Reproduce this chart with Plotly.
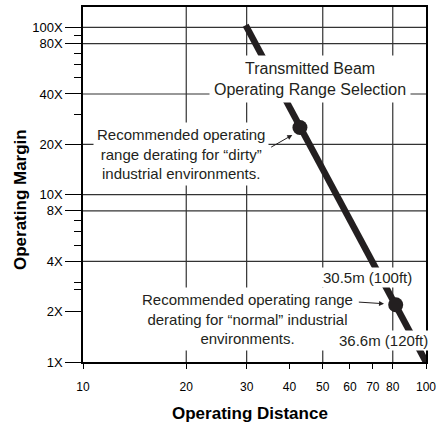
import plotly.graph_objects as go

# ---- data ----
beam_x = [29.8, 100]          # operating distance
beam_y = [103, 1.0]           # operating margin
dot_x = [42.9, 81.6]
dot_y = [25.2, 2.2]

x_ticks = [10, 20, 30, 40, 50, 60, 70, 80, 100]
x_tick_text = ["10", "20", "30", "40", "50", "60", "70", "80", "100"]
x_grid = [20, 30, 50, 80]

y_ticks = [1, 2, 4, 8, 10, 20, 40, 80, 100]
y_tick_text = ["1X", "2X", "4X", "8X", "10X", "20X", "40X", "80X", "100X"]
y_minor = [90, 70, 60, 50, 30, 7, 6, 5, 3, 2.7]
y_grid = [100, 80, 40, 20, 10, 8, 4]

INK = "#231f20"
FONT = "Liberation Sans, Arial, sans-serif"

fig = go.Figure()
fig.add_trace(go.Scatter(x=beam_x, y=beam_y, mode="lines",
                         line=dict(color=INK, width=6.5), hoverinfo="skip",
                         showlegend=False))
fig.add_trace(go.Scatter(x=dot_x, y=dot_y, mode="markers",
                         marker=dict(color=INK, size=15), hoverinfo="skip",
                         showlegend=False))

shapes = []
for v in y_grid:
    shapes.append(dict(type="line", xref="paper", x0=0, x1=1, yref="y",
                       y0=v, y1=v, line=dict(color="#333", width=1.2), layer="below"))
for v in x_grid:
    shapes.append(dict(type="line", yref="paper", y0=0, y1=1, xref="x",
                       x0=v, x1=v, line=dict(color="#333", width=1.2), layer="below"))

def ann(text, x, y, size=15, **kw):
    d = dict(text=text, x=x, y=y, xref="paper", yref="paper", showarrow=False,
             font=dict(family=FONT, size=size, color=INK), bgcolor="white",
             align="center", xanchor="center", yanchor="middle", borderpad=2)
    d.update(kw)
    return d

annotations = [
    ann("Transmitted Beam<br>Operating Range Selection", 0.6618, 0.7958, size=16, borderpad=4),
    ann("Recommended operating<br>range derating for \u201cdirty\u201d<br>industrial environments.",
        0.2857, 0.5873, borderpad=3),
    ann("Recommended operating range<br>derating for \u201cnormal\u201d industrial<br>environments.",
        0.481, 0.1211, borderpad=3),
    ann("30.5m (100ft)", 0.8294, 0.2394, borderpad=1),
    ann("36.6m (120ft)", 0.8752, 0.0611, borderpad=1),
    dict(text="", x=0.6101, y=0.6394, xref="paper", yref="paper", showarrow=True,
         ax=-22.6, ay=13, arrowhead=2, arrowsize=1, arrowwidth=1, arrowcolor=INK),
    dict(text="", x=0.8776, y=0.1642, xref="paper", yref="paper", showarrow=True,
         ax=-26.7, ay=-1.7, arrowhead=2, arrowsize=1, arrowwidth=1, arrowcolor=INK),
    dict(text="<b>Operating Margin</b>", x=-0.1822, y=0.4577, xref="paper", yref="paper",
         showarrow=False, textangle=-90, font=dict(family=FONT, size=17, color="black"),
         xanchor="center", yanchor="middle"),
    dict(text="<b>Operating Distance</b>", x=0.4869, y=-0.1456, xref="paper", yref="paper",
         showarrow=False, font=dict(family=FONT, size=17, color="black"),
         xanchor="center", yanchor="middle"),
]

fig.update_layout(
    width=448, height=425,
    margin=dict(l=83, r=22, t=7, b=63, autoexpand=False),
    paper_bgcolor="white", plot_bgcolor="white",
    font=dict(family=FONT, color="black"),
    shapes=shapes, annotations=annotations,
    xaxis=dict(type="log", range=[1, 2], tickvals=x_ticks, ticktext=x_tick_text,
               showgrid=False, zeroline=False, showline=True, mirror=True,
               linecolor="black", linewidth=1.5, ticks="outside", ticklen=5,
               tickcolor="black", tickwidth=1.2, tickfont=dict(size=12),
               ticklabelstandoff=8, automargin=False),
    yaxis=dict(type="log", range=[0, 2.122], tickvals=y_ticks, ticktext=y_tick_text,
               showgrid=False, zeroline=False, showline=True, mirror=True,
               linecolor="black", linewidth=1.5, ticks="outside", ticklen=16,
               tickcolor="black", tickwidth=1.2, tickfont=dict(size=13),
               automargin=False,
               minor=dict(tickvals=y_minor, ticks="outside", ticklen=7,
                          tickcolor="black", tickwidth=1.2, showgrid=False)),
)

fig.write_html("out.html", config={"displayModeBar": False},
               post_script="document.body.style.margin='0';")
